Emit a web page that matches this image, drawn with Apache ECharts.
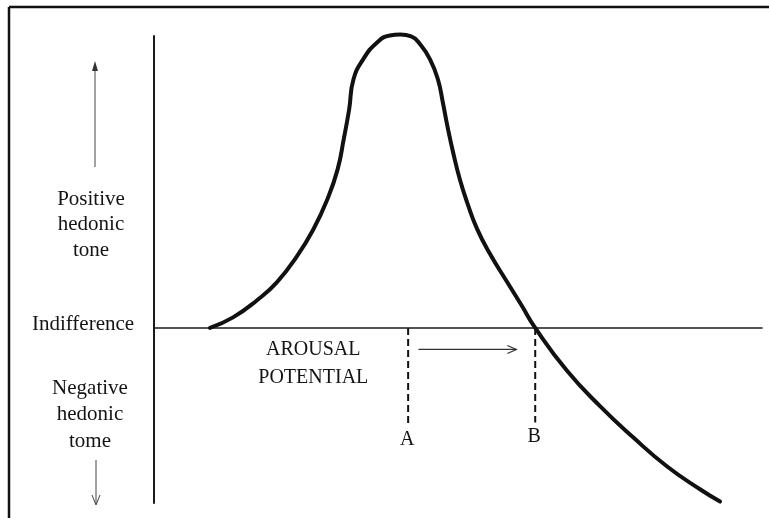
<!DOCTYPE html>
<html><head><meta charset="utf-8">
<script src="https://cdn.jsdelivr.net/npm/echarts@6/dist/echarts.min.js"></script>
<style>html,body{margin:0;padding:0;background:#fff}#c{width:769px;height:518px}</style>
</head><body><div id="c"></div>
<script>
// Wundt curve: hedonic tone as a function of arousal potential
const arousal = [9.2, 13.0, 16.9, 20.2, 23.5, 26.2, 28.5, 30.2, 31.2, 32.1, 32.8, 34.4, 36.7, 38.8, 40.5, 42.3, 43.8, 45.4, 46.7, 47.5, 48.3, 49.2, 50.3, 51.5, 53.1, 55.3, 57.9, 60.4, 62.7, 67.9, 73.4, 78.8, 84.4, 89.8, 93.1];
const hedonicTone = [0, 0.36, 0.94, 1.56, 2.45, 3.37, 4.40, 5.43, 6.46, 7.49, 8.51, 9.20, 9.78, 10.02, 10.05, 9.99, 9.71, 9.20, 8.51, 7.73, 6.87, 6.01, 5.09, 4.30, 3.41, 2.52, 1.63, 0.79, 0, -1.46, -2.69, -3.75, -4.75, -5.53, -5.95];
const markerNames = ['A', 'B'];
const markerArousal = [41.8, 62.7];
const markerDepth = [-3.37, -3.24];
const axisTitleLines = ['AROUSAL', 'POTENTIAL'];
const positiveLines = ['Positive', 'hedonic', 'tone'];
const negativeLines = ['Negative', 'hedonic', 'tome'];
const zeroLabel = 'Indifference';

const FONT = '"Liberation Serif", "Times New Roman", serif';
const FS = 21;
const INK = '#141414';
const chart = echarts.init(document.getElementById('c'), null, {renderer: 'canvas'});
chart.setOption({
  animation: false,
  backgroundColor: '#ffffff',
  grid: {left: 154, right: 7, top: 36, bottom: 15},
  xAxis: {type: 'value', min: 0, max: 100,
    axisLine: {show: true, onZero: true, lineStyle: {color: '#1a1a1a', width: 1.6}},
    axisTick: {show: false}, axisLabel: {show: false}, splitLine: {show: false}},
  yAxis: {type: 'value', min: -6, max: 10,
    axisLine: {show: true, onZero: false, lineStyle: {color: '#1a1a1a', width: 2}},
    axisTick: {show: false}, axisLabel: {show: false}, splitLine: {show: false}},
  series: [{
    type: 'line', data: arousal.map((x, i) => [x, hedonicTone[i]]),
    smooth: 0.5, showSymbol: false, symbol: 'none', clip: false,
    lineStyle: {color: '#111', width: 4, cap: 'round', join: 'round'}, z: 5
  }]
});

const px = (x, y) => chart.convertToPixel({gridIndex: 0}, [x, y]);
const g = [];
// page frame
g.push({type: 'line', shape: {x1: 9, y1: 7, x2: 769, y2: 7}, style: {stroke: '#111', lineWidth: 2.5}});
g.push({type: 'line', shape: {x1: 9, y1: 7, x2: 9, y2: 518}, style: {stroke: '#111', lineWidth: 2.5}});
// A / B markers
markerNames.forEach((n, i) => {
  const p0 = px(markerArousal[i], 0), p1 = px(markerArousal[i], markerDepth[i]);
  g.push({type: 'line', shape: {x1: p0[0], y1: p0[1], x2: p1[0], y2: p1[1]},
    style: {stroke: '#111', lineWidth: 2, lineDash: [7, 4]}});
  g.push({type: 'text', x: p1[0] - 1, y: p1[1] + 14, style: {text: n, font: FS - 1 + 'px ' + FONT, fill: INK, align: 'center', verticalAlign: 'middle'}});
});
// arousal arrow
const a0 = px(43.5, -0.74), a1 = px(59.6, -0.74);
g.push({type: 'line', shape: {x1: a0[0], y1: a0[1], x2: a1[0], y2: a1[1]}, style: {stroke: '#333', lineWidth: 1.2}});
g.push({type: 'polyline', shape: {points: [[a1[0] - 9, a1[1] - 4], [a1[0], a1[1]], [a1[0] - 9, a1[1] + 4]]}, style: {stroke: '#333', lineWidth: 1.2, fill: null}});
axisTitleLines.forEach((t, i) => {
  const p = px(26.2, -0.74 - i * 0.96);
  g.push({type: 'text', x: p[0], y: p[1], style: {text: t, font: FS - 1 + 'px ' + FONT, fill: INK, align: 'center', verticalAlign: 'middle'}});
});
// left labels
const z0 = px(0, 0);
g.push({type: 'text', x: 83, y: z0[1] - 3, style: {text: zeroLabel, font: FS + 'px ' + FONT, fill: INK, align: 'center', verticalAlign: 'middle'}});
positiveLines.forEach((t, i) => {
  g.push({type: 'text', x: 91, y: 199 + i * 25.5, style: {text: t, font: FS + 'px ' + FONT, fill: INK, align: 'center', verticalAlign: 'middle'}});
});
negativeLines.forEach((t, i) => {
  g.push({type: 'text', x: 90, y: 388 + i * 26.5, style: {text: t, font: FS + 'px ' + FONT, fill: INK, align: 'center', verticalAlign: 'middle'}});
});
// up / down arrows
g.push({type: 'line', shape: {x1: 95, y1: 167, x2: 95, y2: 68}, style: {stroke: '#444', lineWidth: 1}});
g.push({type: 'polygon', shape: {points: [[95, 61], [92, 71], [98, 71]]}, style: {fill: '#333'}});
g.push({type: 'line', shape: {x1: 96, y1: 460, x2: 96, y2: 504}, style: {stroke: '#444', lineWidth: 1}});
g.push({type: 'polyline', shape: {points: [[92, 495], [96, 505], [100, 495]]}, style: {stroke: '#444', lineWidth: 1, fill: null}});
chart.setOption({graphic: g});
</script></body></html>
